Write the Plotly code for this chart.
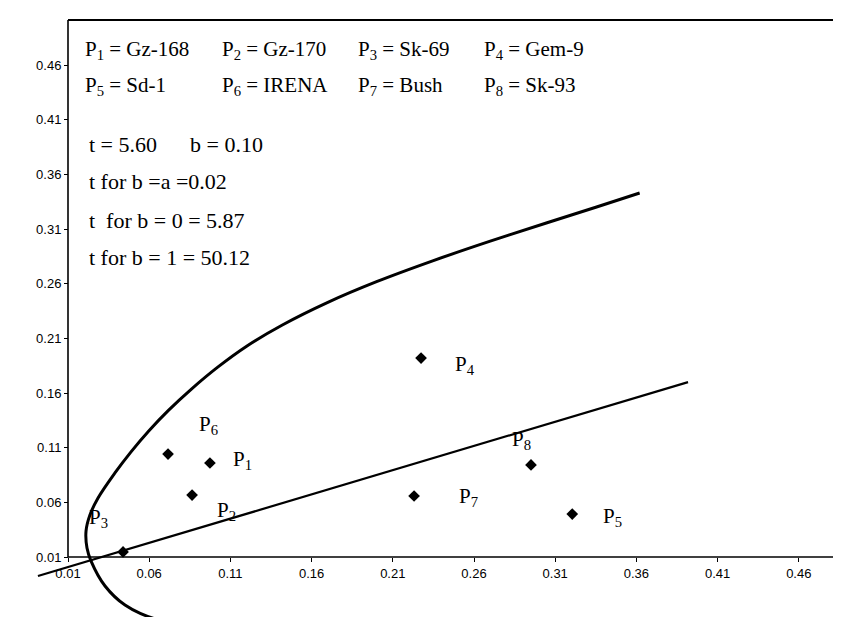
import plotly.graph_objects as go

# ---------------- data ----------------
point_names = ["P1", "P2", "P3", "P4", "P5", "P6", "P7", "P8"]
point_x = [0.0974, 0.0864, 0.0439, 0.2274, 0.3205, 0.0716, 0.2231, 0.2951]
point_y = [0.0960, 0.0667, 0.0146, 0.1920, 0.0493, 0.1042, 0.0658, 0.0942]

# curved boundary (lower end -> upper end)
curve_x = [0.0839, 0.0654, 0.0451, 0.0328, 0.0242, 0.0217, 0.0211, 0.0235, 0.0285,
           0.0389, 0.0488, 0.0600, 0.0720, 0.0860, 0.1020, 0.1200, 0.1420, 0.1700,
           0.2000, 0.2350, 0.2700, 0.3050, 0.3350, 0.3620]
curve_y = [-0.0522, -0.0476, -0.0339, -0.0165, 0.0063, 0.0182, 0.0338, 0.0484, 0.0640,
           0.0869, 0.1062, 0.1258, 0.1444, 0.1637, 0.1835, 0.2029, 0.2223, 0.2430,
           0.2619, 0.2812, 0.2990, 0.3158, 0.3300, 0.3430]

# straight line (end points)
line_x = [-0.0085, 0.3918]
line_y = [-0.0074, 0.1700]

tick_vals = [0.01, 0.06, 0.11, 0.16, 0.21, 0.26, 0.31, 0.36, 0.41, 0.46]
tick_text = ["0.01", "0.06", "0.11", "0.16", "0.21", "0.26", "0.31", "0.36", "0.41", "0.46"]

legend_rows = [
    ["P<sub>1</sub> = Gz-168", "P<sub>2</sub> = Gz-170", "P<sub>3</sub> = Sk-69", "P<sub>4</sub> = Gem-9"],
    ["P<sub>5</sub> = Sd-1", "P<sub>6</sub> = IRENA", "P<sub>7</sub> = Bush", "P<sub>8</sub> = Sk-93"],
]
info_lines = [
    "t = 5.60      b = 0.10",
    "t for b =a =0.02",
    "t  for b = 0 = 5.87",
    "t for b = 1 = 50.12",
]

# ---------------- layout geometry (style) ----------------
W, H = 841, 617
X0_PX, Y0_PX = 60, 549          # pixel position of the (0.01, 0.01) corner
PX_PER_X, PX_PER_Y = 1624.0, 1093.0
x_range = [0.01 - X0_PX / PX_PER_X, 0.01 + (W - X0_PX) / PX_PER_X]
y_range = [0.01 - (H - Y0_PX) / PX_PER_Y, 0.01 + Y0_PX / PX_PER_Y]
frame_top = 0.01 + (Y0_PX - 12) / PX_PER_Y

serif = "Liberation Serif, Times New Roman, serif"
sans = "Liberation Sans, Arial, sans-serif"

fig = go.Figure()

fig.add_trace(go.Scatter(x=curve_x, y=curve_y, mode="lines",
                         line=dict(color="black", width=3, shape="spline", smoothing=1.0),
                         hoverinfo="skip", showlegend=False))
fig.add_trace(go.Scatter(x=line_x, y=line_y, mode="lines",
                         line=dict(color="black", width=2.2),
                         hoverinfo="skip", showlegend=False))
fig.add_trace(go.Scatter(x=point_x, y=point_y, mode="markers",
                         marker=dict(symbol="diamond", size=9, color="black"),
                         text=point_names, showlegend=False))

# point labels, offset in pixels from each marker
label_shift = {
    "P1": (33, 3), "P2": (34, -16), "P3": (-25, 34), "P4": (44, -7),
    "P5": (40, -3), "P6": (40, 29), "P7": (54, -1), "P8": (-10, 25),
}
for name, px, py in zip(point_names, point_x, point_y):
    dx, dy = label_shift[name]
    fig.add_annotation(x=px, y=py, xref="x", yref="y", xshift=dx, yshift=dy,
                       text="P<sub>%s</sub>" % name[1:], showarrow=False,
                       font=dict(family=serif, size=21, color="black"))

# legend block text
col_px = [75, 212, 348, 474]
row_py = [42, 78]
for row, ypx in zip(legend_rows, row_py):
    for txt, xpx in zip(row, col_px):
        fig.add_annotation(x=xpx / W, y=1 - ypx / H, xref="paper", yref="paper",
                           xanchor="left", yanchor="middle", text=txt, showarrow=False,
                           font=dict(family=serif, size=21, color="black"))
info_py = [137, 174, 212, 250]
for txt, ypx in zip(info_lines, info_py):
    fig.add_annotation(x=79 / W, y=1 - ypx / H, xref="paper", yref="paper",
                       xanchor="left", yanchor="middle", text=txt, showarrow=False,
                       font=dict(family=serif, size=22, color="black"))

# axis lines and chart frame
fig.add_shape(type="line", xref="x", yref="y", x0=0.01, y0=0.01, x1=x_range[1], y1=0.01,
              line=dict(color="black", width=1.6))
fig.add_shape(type="line", xref="x", yref="y", x0=0.01, y0=0.01, x1=0.01, y1=frame_top,
              line=dict(color="black", width=1.6))
fig.add_shape(type="line", xref="x", yref="y", x0=0.01, y0=frame_top, x1=x_range[1], y1=frame_top,
              line=dict(color="black", width=1.8))

fig.update_layout(
    width=W, height=H,
    margin=dict(l=0, r=0, t=0, b=0, pad=0),
    paper_bgcolor="white", plot_bgcolor="white",
    showlegend=False,
    xaxis=dict(range=x_range, domain=[0, 1], anchor="free", position=(H - Y0_PX) / H,
               tickvals=tick_vals, ticktext=tick_text, ticks="outside", ticklen=4,
               tickcolor="black", showgrid=False, zeroline=False, showline=False,
               tickfont=dict(family=sans, size=13, color="black"), automargin=False),
    yaxis=dict(range=y_range, domain=[0, 1], anchor="free", position=X0_PX / W,
               tickvals=tick_vals, ticktext=tick_text, ticks="outside", ticklen=4,
               tickcolor="black", showgrid=False, zeroline=False, showline=False,
               tickfont=dict(family=sans, size=13, color="black"), automargin=False),
)

fig.write_html("out.html")
